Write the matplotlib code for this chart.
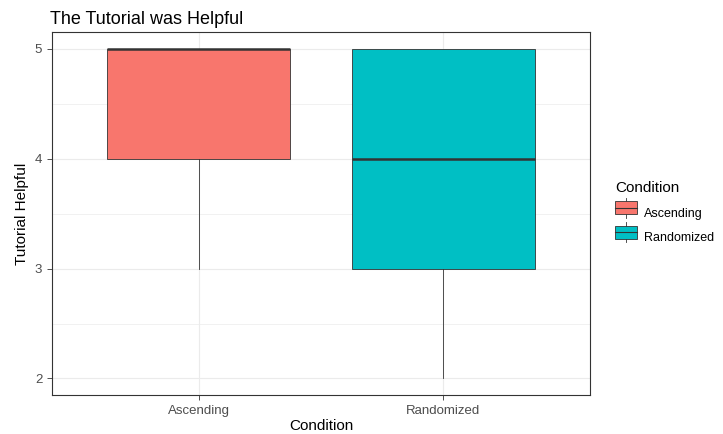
import matplotlib
matplotlib.use("Agg")
import matplotlib.pyplot as plt
from matplotlib.patches import Rectangle
from matplotlib.lines import Line2D
from matplotlib.legend_handler import HandlerBase

plt.rcParams["font.family"] = ["Liberation Sans", "DejaVu Sans"]

conditions = ["Ascending", "Randomized"]
colors = ["#F8766D", "#00BFC4"]
whislo = [3, 2]
q1 = [4, 3]
med = [5, 4]
q3 = [5, 5]
whishi = [5, 5]
yticks = [2, 3, 4, 5]


class BoxKey(HandlerBase):
    def create_artists(self, legend, orig, xd, yd, w, h, fs, trans):
        fc = orig.get_facecolor()
        cx = xd + w / 2
        arts = [
            Line2D([cx, cx], [yd - 2.5, yd + h + 2.5], color="#333333", lw=0.6, transform=trans),
            Rectangle((xd, yd), w, h, facecolor=fc, edgecolor="#333333", lw=0.6, transform=trans),
            Line2D([xd, xd + w], [yd + h / 2, yd + h / 2], color="#333333", lw=0.8, transform=trans),
        ]
        return arts


fig = plt.figure(figsize=(7.23, 4.34), dpi=100)
ax = fig.add_axes([0.0719, 0.0899, 0.744, 0.836])

stats = []
for i, c in enumerate(conditions):
    stats.append(dict(label=c, whislo=whislo[i], q1=q1[i], med=med[i],
                      q3=q3[i], whishi=whishi[i], fliers=[]))

bp = ax.bxp(stats, positions=[1, 2], widths=0.75, patch_artist=True,
            showcaps=False, zorder=3)
for patch, col in zip(bp["boxes"], colors):
    patch.set_facecolor(col)
    patch.set_edgecolor("#333333")
    patch.set_linewidth(0.6)
for w in bp["whiskers"]:
    w.set_color("#333333")
    w.set_linewidth(0.6)
for m in bp["medians"]:
    m.set_color("#333333")
    m.set_linewidth(1.8)

ax.set_xlim(0.4, 2.6)
ax.set_ylim(1.85, 5.15)
ax.set_yticks(yticks)
ax.set_yticks([2.5, 3.5, 4.5], minor=True)
ax.set_xticks([1, 2])
ax.set_xticklabels(conditions)
ax.grid(True, which="major", color="#EBEBEB", lw=0.8, zorder=0)
ax.grid(True, which="minor", axis="y", color="#EBEBEB", lw=0.5, zorder=0)
ax.set_axisbelow(True)
ax.tick_params(which="major", colors="#333333", labelcolor="#4D4D4D", labelsize=9.5, length=3.5, width=0.6)
ax.tick_params(which="minor", length=0)
for s in ax.spines.values():
    s.set_color("#333333")
    s.set_linewidth(0.8)

ax.set_xlabel("Condition", fontsize=11, labelpad=2)
ax.set_ylabel("Tutorial Helpful", fontsize=11, labelpad=4)
ax.set_title("The Tutorial was Helpful", fontsize=13, loc="left", pad=6, x=-0.004)

handles = [Rectangle((0, 0), 1, 1, facecolor=c) for c in colors]
leg = fig.legend(handles, conditions, title="Condition", handler_map={Rectangle: BoxKey()},
                 loc="upper left", bbox_to_anchor=(0.835, 0.608), frameon=False,
                 fontsize=9, title_fontsize=11, handlelength=1.8, handleheight=1.25,
                 labelspacing=0.85, handletextpad=0.5)
leg._legend_box.align = "left"

fig.savefig("out.png", dpi=100)
